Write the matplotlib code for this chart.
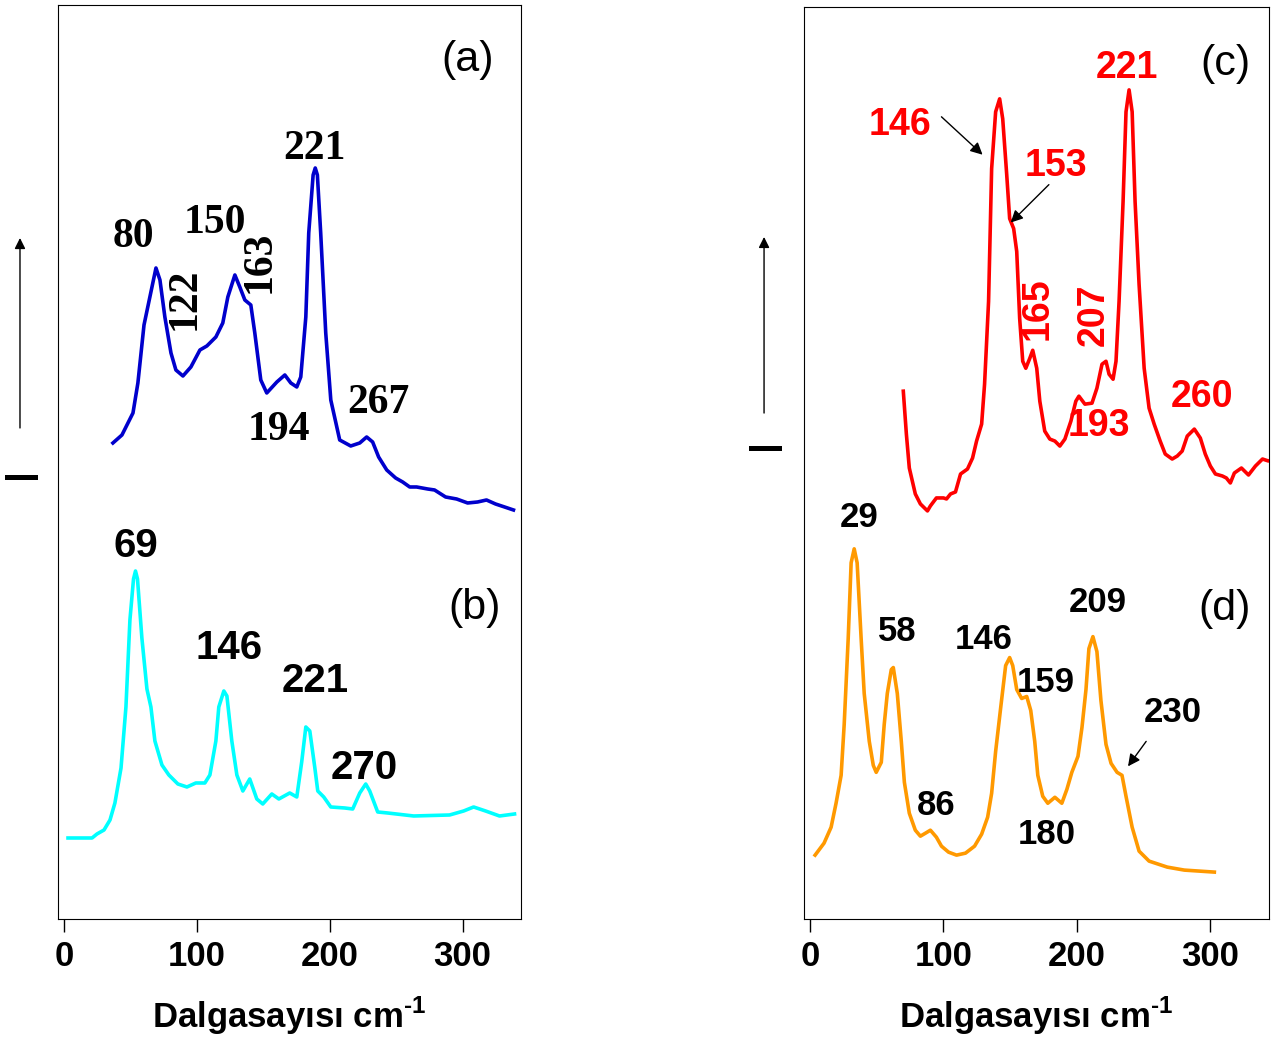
import matplotlib.pyplot as plt
from matplotlib.lines import Line2D

plt.rcParams['mathtext.fontset'] = 'custom'
plt.rcParams['mathtext.bf'] = 'Liberation Sans:bold'
plt.rcParams['mathtext.rm'] = 'Liberation Sans:bold'

SANS = 'Liberation Sans'
SERIF = 'Liberation Serif'

# (a) spektrumu - dalgasayisi / siddet (keyfi birim)
a_x = [36.8, 43.6, 51.9, 55.6, 60.2, 69.2, 72.2, 75.9, 80.5, 84.2, 89.5, 95.5, 102.3, 107.5,
       114.3, 119.5, 123.3, 128.6, 132.3, 136.1, 140.6, 143.6, 148.1, 152.6, 160.2, 166.2,
       170.7, 175.2, 178.2, 182.0, 184.2, 187.5, 189.1, 190.7, 193.2, 197.0, 200.8, 207.5,
       215.8, 222.6, 227.8, 232.3, 236.8, 242.9, 249.6, 254.9, 260.2, 265.4, 273.7, 278.9,
       287.2, 295.5, 303.8, 311.3, 318.0, 324.8, 331.6, 338.3]
a_y = [476, 484, 506, 536, 594, 651, 639, 602, 566, 549, 543, 552, 569, 573,
       582, 596, 622, 644, 632, 619, 614, 586, 539, 526, 537, 544,
       536, 532, 542, 602, 686, 744, 751, 744, 686, 586, 519, 479,
       473, 476, 482, 477, 462, 449, 441, 437, 432, 432, 430, 429,
       422, 420, 416, 417, 419, 415, 412, 409]

# (b)
b_x = [3.0, 21.1, 24.8, 30.1, 34.6, 38.3, 42.9, 46.6, 49.6, 52.3, 53.8, 55.3, 58.6, 62.4,
       65.4, 68.4, 73.7, 78.9, 85.7, 92.5, 99.2, 106.0, 109.8, 114.3, 116.5, 120.3, 122.6,
       126.3, 130.1, 134.6, 139.8, 145.1, 149.6, 156.4, 161.7, 169.9, 175.2, 178.9, 182.0,
       185.0, 188.7, 191.0, 195.5, 200.8, 211.3, 217.3, 222.6, 227.1, 230.1, 236.1, 243.6,
       263.2, 290.2, 300.8, 308.3, 317.3, 327.8, 339.1]
b_y = [81, 81, 85, 89, 99, 116, 151, 212, 299, 340, 348, 340, 281, 230,
       212, 178, 154, 144, 135, 132, 136, 136, 144, 178, 212, 228, 223,
       178, 144, 128, 140, 120, 115, 125, 120, 126, 122, 157, 192,
       188, 152, 128, 122, 112, 111, 110, 126, 135, 128, 107, 106,
       103, 104, 108, 112, 108, 103, 105]

# (c)
c_x = [69.9, 72.2, 74.4, 78.9, 82.7, 88.0, 90.2, 94.7, 100.0, 102.3, 105.3, 109.0, 112.8,
       118.0, 121.8, 124.8, 128.6, 130.8, 133.8, 136.1, 139.1, 142.1, 144.4, 147.4, 149.6,
       152.6, 154.9, 157.1, 159.4, 161.7, 164.7, 166.9, 169.9, 172.2, 175.9, 179.7, 183.5,
       187.2, 191.0, 195.5, 199.2, 201.5, 206.0, 211.3, 215.0, 218.8, 221.8, 224.1, 227.1,
       229.3, 231.6, 234.6, 236.8, 239.1, 241.4, 243.6, 246.6, 250.4, 254.1, 257.9, 262.4,
       266.2, 271.4, 275.2, 278.9, 282.7, 288.0, 292.5, 296.2, 300.0, 303.8, 309.0, 312.0,
       315.0, 318.0, 323.3, 328.6, 333.8, 339.1, 343.6, 347.4]
c_y = [529, 486, 452, 426, 416, 409, 414, 422, 422, 421, 426, 428, 446,
       451, 462, 479, 496, 536, 619, 752, 809, 822, 802, 746, 702,
       692, 669, 602, 559, 552, 562, 570, 552, 519, 489, 481, 479,
       474, 481, 499, 519, 524, 516, 517, 532, 556, 559, 546, 541,
       559, 619, 719, 809, 831, 809, 719, 636, 552, 512, 496, 479,
       466, 461, 464, 469, 484, 491, 482, 466, 454, 446, 444, 442,
       437, 447, 452, 445, 454, 461, 459, 461]

# (d)
d_x = [3.8, 10.5, 15.8, 19.5, 23.3, 25.6, 28.6, 30.8, 33.1, 35.3, 38.3, 40.6, 44.4, 47.4,
       49.6, 53.4, 55.6, 57.9, 60.9, 62.4, 65.4, 68.4, 70.7, 74.4, 78.9, 82.7, 86.5, 90.2,
       94.7, 98.5, 103.8, 109.8, 116.5, 123.3, 128.6, 133.1, 136.1, 139.1, 142.9, 146.6,
       149.6, 151.9, 154.9, 158.6, 162.4, 165.4, 168.4, 170.7, 174.4, 178.2, 183.5, 188.7,
       192.5, 196.2, 200.8, 203.8, 206.8, 209.0, 212.0, 215.0, 218.0, 221.8, 225.6, 230.1,
       233.8, 236.8, 241.4, 246.6, 254.1, 267.7, 280.5, 303.0]
d_y = [64, 76, 92, 116, 144, 195, 281, 357, 371, 357, 281, 226, 178, 154,
       147, 157, 195, 226, 250, 252, 226, 178, 137, 106, 89, 83, 86, 89,
       82, 73, 67, 64, 66, 73, 85, 102, 126, 168, 212, 254,
       262, 254, 230, 221, 223, 209, 178, 144, 123, 116, 122, 116,
       130, 147, 163, 192, 230, 271, 283, 268, 219, 175, 156, 147,
       144, 123, 92, 68, 58, 52, 49, 47]

xticks = [0, 100, 200, 300]
xlabel = 'Dalgasayısı cm$^{\\mathregular{\u2010}\\mathregular{1}}$'

fig = plt.figure(figsize=(12.73, 10.37), dpi=100)
ax1 = fig.add_axes([0.0456, 0.1138, 0.3637, 0.8814])
ax2 = fig.add_axes([0.6316, 0.1138, 0.3653, 0.8794])

for ax in (ax1, ax2):
    ax.set_xlim(-4.5, 344)
    ax.set_ylim(0, 914)
    ax.set_yticks([])
    ax.set_xticks(xticks)
    ax.tick_params(axis='x', direction='out', length=9, width=1, pad=6)
    for lab in ax.get_xticklabels():
        lab.set_fontfamily(SANS)
        lab.set_fontweight('bold')
        lab.set_fontsize(25)
    for s in ax.spines.values():
        s.set_linewidth(0.8)
    ax.set_xlabel(xlabel, fontfamily=SANS, fontweight='bold', fontsize=25, labelpad=16)

lw = 2.6
ax1.plot(a_x, a_y, color='#0000CC', lw=lw, solid_joinstyle='round')
ax1.plot(b_x, b_y, color='#00FFFF', lw=lw, solid_joinstyle='round')
ax2.plot(c_x, c_y, color='#FF0000', lw=lw, solid_joinstyle='round')
ax2.plot(d_x, d_y, color='#FF9900', lw=lw, solid_joinstyle='round')

# (a) etiketleri - serif
serif_kw = dict(fontfamily=SERIF, fontweight='bold', fontsize=30, ha='center', va='center')
ax1.text(51.9, 682, '80', **serif_kw)
ax1.text(91, 620, '122', rotation=90, **serif_kw)
ax1.text(113.5, 696, '150', **serif_kw)
ax1.text(147.4, 657, '163', rotation=90, **serif_kw)
ax1.text(188.7, 770, '221', **serif_kw)
ax1.text(161.7, 489, '194', **serif_kw)
ax1.text(236.8, 516, '267', **serif_kw)

# (b) etiketleri
sans_b = dict(fontfamily=SANS, fontweight='bold', fontsize=29, ha='center', va='center')
ax1.text(54.1, 373, '69', **sans_b)
ax1.text(124, 271, '146', **sans_b)
ax1.text(188.7, 238, '221', **sans_b)
ax1.text(226.3, 151, '270', **sans_b)

panel_kw = dict(fontfamily=SANS, fontsize=31, ha='center', va='center')
ax1.text(303.8, 859, '(a)', **panel_kw)
ax1.text(309, 311, '(b)', **panel_kw)
ax2.text(311.3, 857, '(c)', **panel_kw)
ax2.text(310.5, 311, '(d)', **panel_kw)

# (c) etiketleri - kirmizi
red_kw = dict(fontfamily=SANS, fontweight='bold', fontsize=27, ha='center', va='center', color='#FF0000')
ax2.text(67.7, 796, '146', **red_kw)
ax2.text(184.2, 755, '153', **red_kw)
ax2.text(170.7, 612, '165', rotation=90, **red_kw)
ax2.text(212.8, 606, '207', rotation=90, **red_kw)
ax2.text(216.5, 494, '193', **red_kw)
ax2.text(237.6, 853, '221', **red_kw)
ax2.text(294, 523, '260', **red_kw)

arrow_kw = dict(arrowstyle='-|>', color='black', lw=1, mutation_scale=18, shrinkA=0, shrinkB=0)
ax2.annotate('', xy=(129.3, 766), xytext=(98.5, 804), arrowprops=arrow_kw)
ax2.annotate('', xy=(150.4, 698), xytext=(179, 736), arrowprops=arrow_kw)

# (d) etiketleri - siyah
blk_kw = dict(fontfamily=SANS, fontweight='bold', fontsize=25, ha='center', va='center')
ax2.text(36.8, 402, '29', **blk_kw)
ax2.text(65.4, 288, '58', **blk_kw)
ax2.text(94.7, 114, '86', **blk_kw)
ax2.text(130, 280, '146', **blk_kw)
ax2.text(176.7, 237, '159', **blk_kw)
ax2.text(177.4, 85, '180', **blk_kw)
ax2.text(215.8, 317, '209', **blk_kw)
ax2.text(272.2, 207, '230', **blk_kw)
ax2.annotate('', xy=(238.3, 153), xytext=(251.9, 178), arrowprops=arrow_kw)

# y ekseni oklari (siddet)
for x, y0, y1 in [(0.0157, 0.5873, 0.7705), (0.6002, 0.6017, 0.7715)]:
    fig.add_artist(plt.Annotation('', xy=(x, y1), xytext=(x, y0), xycoords='figure fraction',
                                  arrowprops=dict(arrowstyle='-|>', color='black', lw=1,
                                                  mutation_scale=16, shrinkA=0, shrinkB=0)))
fig.add_artist(Line2D([0.0055, 0.0275], [0.540, 0.540], color='black', lw=3.6))
fig.add_artist(Line2D([0.590, 0.612], [0.568, 0.568], color='black', lw=3.6))

plt.savefig('out.png', dpi=100)
